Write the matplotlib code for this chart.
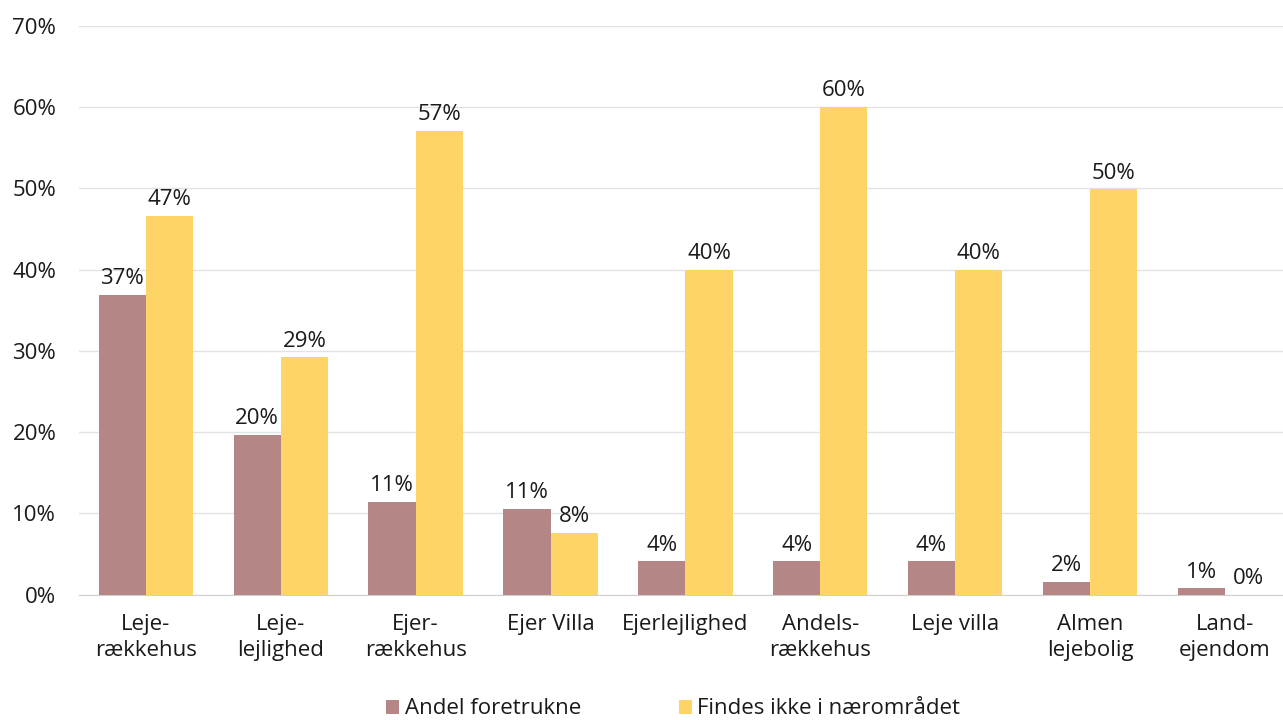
import matplotlib.pyplot as plt
import numpy as np

plt.rcParams["font.family"] = ["Open Sans", "DejaVu Sans"]

categories = ["Leje-\nrækkehus", "Leje-\nlejlighed", "Ejer-\nrækkehus", "Ejer Villa",
              "Ejerlejlighed", "Andels-\nrækkehus", "Leje villa", "Almen\nlejebolig",
              "Land-\nejendom"]
andel_foretrukne = [36.9, 19.7, 11.4, 10.6, 4.1, 4.1, 4.1, 1.6, 0.8]
findes_ikke = [46.6, 29.2, 57.1, 7.6, 40.0, 60.0, 40.0, 49.9, 0.0]
series_names = ["Andel foretrukne", "Findes ikke i nærområdet"]

BROWN = "#b48786"
YELLOW = "#ffd466"
TEXT = "#1a1a1a"
FS = 16

fig = plt.figure(figsize=(12.83, 7.2), dpi=100)
# the plot area runs a little past the right edge of the canvas
ax = fig.add_axes([0.0612, 0.174, 0.946, 0.79])

x = np.arange(len(categories))
w = 0.35
b1 = ax.bar(x - w / 2, andel_foretrukne, w, color=BROWN, label=series_names[0], zorder=3)
b2 = ax.bar(x + w / 2, findes_ikke, w, color=YELLOW, label=series_names[1], zorder=3)

for bars, vals in ((b1, andel_foretrukne), (b2, findes_ikke)):
    for rect, v in zip(bars, vals):
        ax.text(rect.get_x() + rect.get_width() / 2, v + 0.7, f"{v:.0f}%",
                ha="center", va="bottom", fontsize=FS, color=TEXT)

ax.set_xlim(-0.5, len(categories) - 0.5)
ax.set_ylim(0, 70)
ax.set_yticks(np.arange(0, 71, 10))
ax.set_yticklabels([f"{t}%" for t in range(0, 71, 10)])
ax.set_xticks(x)
ax.set_xticklabels(categories, linespacing=1.3)
ax.tick_params(axis="both", length=0, labelsize=FS, colors=TEXT)
ax.tick_params(axis="y", pad=16)
ax.tick_params(axis="x", pad=14)

ax.grid(axis="y", color="#e3e3e3", linewidth=1, zorder=0)
for side in ("top", "right", "left"):
    ax.spines[side].set_visible(False)
ax.spines["bottom"].set_color("#d0d0d0")

fig.legend(handles=[b1, b2], labels=series_names, loc="lower left",
           bbox_to_anchor=(0.285, -0.027), ncol=2, frameon=False, fontsize=FS,
           handlelength=0.6, handleheight=0.6, handletextpad=0.25,
           columnspacing=4.4, labelcolor=TEXT)

fig.savefig("out.png", dpi=100, facecolor="white")
